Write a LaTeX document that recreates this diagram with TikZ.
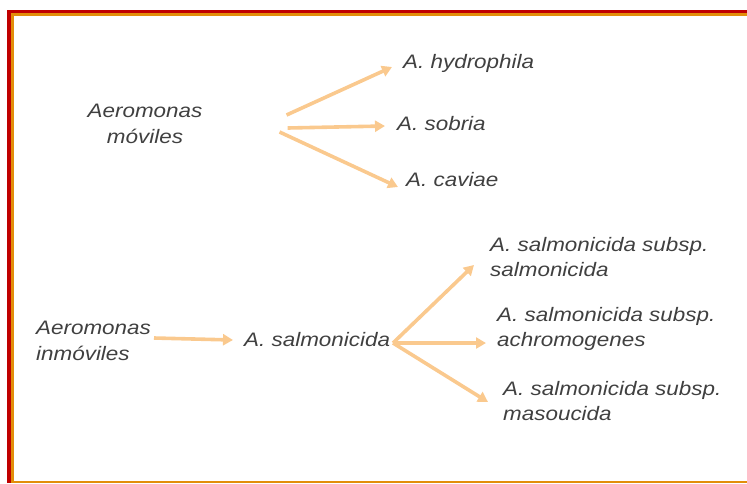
\documentclass[tikz,border=0pt]{standalone}
\usepackage{fontspec}
\newfontfamily\labfont[FakeStretch=1.15]{Liberation Sans}
\usetikzlibrary{arrows.meta,calc}
\definecolor{bred}{RGB}{192,0,0}
\definecolor{borange}{RGB}{226,142,10}
\definecolor{arr}{RGB}{250,201,142}
\definecolor{txt}{RGB}{64,64,64}
\tikzset{
  lab/.style={inner sep=0pt, text=txt, font=\labfont\itshape\fontsize{19.5}{25.5}\selectfont},
  conn/.style={draw=arr, line width=3.6pt, -{Triangle[length=10pt,width=11pt]}}
}
\begin{document}
\begin{tikzpicture}[x=1pt,y=-1pt]
\useasboundingbox (0,0) rectangle (747,483);
% border
\fill[bred] (7,10) rectangle (747,13);
\fill[bred] (7,10) rectangle (11,483);
\fill[borange] (11,13) rectangle (747,16);
\fill[borange] (11,13) rectangle (14,483);
\fill[borange] (11,480.5) rectangle (747,483);
% upper group
\node[lab, align=center] (mov) at (145,124) {Aeromonas\\móviles};
\node[lab, anchor=west] (hyd) at (403,63) {A. hydrophila};
\node[lab, anchor=west] (sob) at (397,124) {A. sobria};
\node[lab, anchor=west] (cav) at (406,180) {A. caviae};
\coordinate (m1) at ($(mov.east)+(84,-9)$);
\coordinate (m2) at ($(mov.east)+(85,4)$);
\coordinate (m3) at ($(mov.east)+(77,8)$);
\draw[conn] (m1) -- ($(hyd.west)+(-11,4)$);
\draw[conn] (m2) -- ($(sob.west)+(-12,2)$);
\draw[conn] (m3) -- ($(cav.west)+(-8,7)$);
% lower group
\node[lab, align=left, anchor=west] (inm) at (36,341) {Aeromonas\\inmóviles};
\node[lab, anchor=west] (sal) at (244,340) {A. salmonicida};
\node[lab, align=left, anchor=west] (s1) at (490,257) {A. salmonicida subsp.\\salmonicida};
\node[lab, align=left, anchor=west] (s2) at (497,329) {A. salmonicida subsp.\\achromogenes};
\node[lab, align=left, anchor=west] (s3) at (503,401) {A. salmonicida subsp.\\masoucida};
\coordinate (ia) at ($(inm.west)+(118,-3)$);
\draw[conn] (ia) -- ($(sal.west)+(-11,0)$);
\coordinate (sa) at ($(sal.west)+(149,3)$);
\draw[conn] (sa) -- ($(s1.west)+(-16,8)$);
\draw[conn] (sa) -- ($(s2.west)+(-11,14)$);
\draw[conn] (sa) -- ($(s3.west)+(-15,1)$);
\end{tikzpicture}
\end{document}
